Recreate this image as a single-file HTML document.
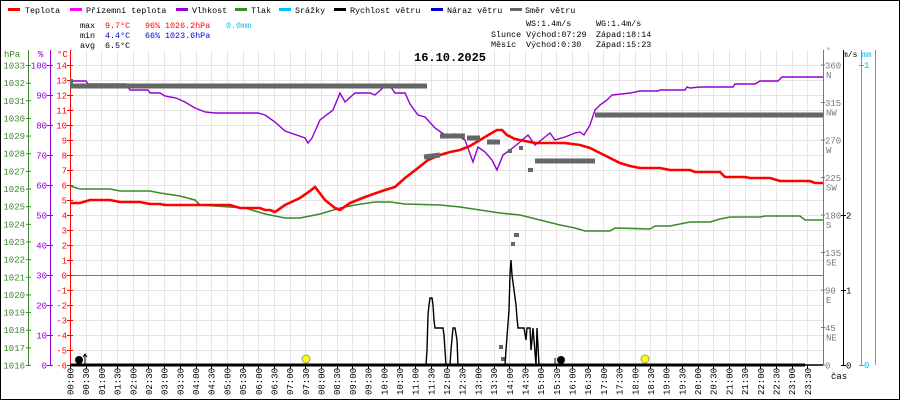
<!DOCTYPE html>
<html><head><meta charset="utf-8"><style>
body{margin:0;background:#fff;}
svg{display:block;font-family:"Liberation Mono","DejaVu Sans Mono",monospace;font-size:10px;}
</style></head><body>
<svg width="900" height="400" viewBox="0 0 900 400" xmlns="http://www.w3.org/2000/svg">
<rect x="0.5" y="0.5" width="899" height="399" fill="#fff" stroke="#000"/>
<!-- legend -->
<g font-size="8.4">
<rect x="8" y="8" width="12" height="3" fill="#f00"/><text x="25" y="13">Teplota</text>
<rect x="70" y="8" width="12" height="3" fill="#f0f"/><text x="86" y="13">Přízemní teplota</text>
<rect x="176" y="8" width="12" height="3" fill="#9400d3"/><text x="192" y="13">Vlhkost</text>
<rect x="235" y="8" width="12" height="3" fill="#3a8a2a"/><text x="251" y="13">Tlak</text>
<rect x="279" y="8" width="12" height="3" fill="#00bfff"/><text x="295" y="13">Srážky</text>
<rect x="334" y="8" width="12" height="3" fill="#000"/><text x="350" y="13">Rychlost větru</text>
<rect x="431" y="8" width="12" height="3" fill="#00c"/><text x="447" y="13">Náraz větru</text>
<rect x="510" y="8" width="12" height="3" fill="#666"/><text x="525" y="13">Směr větru</text>
</g>
<g font-size="8.4">
<text x="80" y="28">max</text><text x="105" y="28" fill="#f00">9.7°C</text><text x="145" y="28" fill="#f00">96%</text><text x="165" y="28" fill="#f00">1026.2hPa</text><text x="226" y="28" fill="#00bfff">0.0mm</text>
<text x="80" y="38">min</text><text x="105" y="38" fill="#00c">4.4°C</text><text x="145" y="38" fill="#00c">66%</text><text x="165" y="38" fill="#00c">1023.6hPa</text>
<text x="80" y="48">avg</text><text x="105" y="48">6.5°C</text>
<text x="526" y="26">WS:1.4m/s</text><text x="596" y="26">WG:1.4m/s</text>
<text x="491" y="37">Slunce Východ:07:29</text><text x="596" y="37">Západ:18:14</text>
<text x="491" y="47">Měsíc</text><text x="526" y="47">Východ:0:30</text><text x="596" y="47">Západ:15:23</text>
</g>
<!-- grid -->
<g stroke="#e8e4e4" stroke-width="1" id="grid"></g>
<rect x="412" y="51" width="76" height="13" fill="#fff"/>
<text x="414" y="61" font-size="12" font-weight="bold">16.10.2025</text>
<!-- axes -->
<line x1="28.5" y1="50" x2="28.5" y2="365" stroke="#3a8a2a"/>
<line x1="50.5" y1="50" x2="50.5" y2="365" stroke="#9400d3"/>
<line x1="70.5" y1="50" x2="70.5" y2="365" stroke="#f00"/>
<line x1="823.5" y1="50" x2="823.5" y2="365" stroke="#777"/>
<line x1="843.5" y1="50" x2="843.5" y2="365" stroke="#000"/>
<line x1="861.5" y1="50" x2="861.5" y2="365" stroke="#00bfff"/>
<line x1="875.5" y1="50" x2="875.5" y2="365" stroke="#e08020"/>
<line x1="70" y1="275.5" x2="823" y2="275.5" stroke="#777"/>
<g font-size="9"><text x="4" y="57" fill="#3a8a2a">hPa</text><text x="38" y="57" fill="#9400d3">%</text><text x="57" y="57" fill="#f00">°C</text></g>
<text x="826" y="53" fill="#777" font-size="8">°</text><text x="843" y="57" font-size="8">m/s</text><text x="862" y="57" fill="#00bfff" font-size="8">mm</text>
<g id="labels" font-size="9"></g>
<!-- series -->
<polyline fill="none" stroke="#3a8a2a" stroke-width="1.6" points="70,186 80,189 110,189 120,191 150,191 160,193 180,196 195,200 200,205 245,208 265,214 285,218 300,218 320,214 340,208 355,205 375,202 390,202 405,204 440,205 460,207 480,210 500,213 520,215 540,220 560,225 575,228 585,231 610,231 615,228 650,229 655,226 670,226 680,224 690,222 710,222 720,219 730,217 760,217 765,216 800,216 805,220 823,220"/>
<polyline fill="none" stroke="#9400d3" stroke-width="1.4" points="70,81 86,81 88,84 126,84 130,90 148,90 150,93 160,93 165,96 176,98 185,102 195,108 205,112 215,113 258,113 265,115 275,122 285,131 305,138 308,143 312,138 320,120 333,110 340,93 345,102 355,93 370,93 375,95 385,86 390,86 395,93 405,93 410,104 418,115 425,117 435,128 445,135 455,134 465,140 473,162 478,147 485,152 492,160 497,170 503,155 510,150 520,142 528,135 535,145 545,137 550,133 555,140 565,137 575,133 580,132 584,135 590,125 595,110 600,105 607,100 612,95 630,93 640,91 658,91 660,90 685,90 687,87 690,88 700,87 733,87 735,84 755,84 760,81 778,81 782,77 823,77"/>
<polyline fill="none" stroke="#f00" stroke-width="2.6" points="70,203 80,203 90,200 110,200 120,202 140,202 150,204 160,204 165,205 230,205 240,208 260,208 265,210 270,210 275,212 285,205 300,198 310,191 315,187 325,200 335,208 340,210 350,203 365,197 385,190 395,187 405,178 418,168 428,160 440,155 450,152 460,150 470,146 480,140 490,134 497,130 502,130 507,135 515,139 525,141 535,143 565,143 580,145 590,148 600,153 610,158 620,163 630,166 640,168 660,168 670,170 690,170 695,172 720,172 725,177 745,177 750,178 770,178 780,181 810,181 815,183 823,183"/>
<g stroke="#666" stroke-width="5">
<line x1="70" y1="86" x2="427" y2="86"/>
<line x1="424" y1="157" x2="440" y2="155"/>
<line x1="440" y1="136" x2="465" y2="136"/>
<line x1="467" y1="138" x2="480" y2="138"/>
<line x1="487" y1="142" x2="500" y2="142"/>
<line x1="535" y1="161" x2="595" y2="161"/>
<line x1="595" y1="115" x2="823" y2="115"/>
</g>
<g fill="#666"><rect x="508" y="149" width="4" height="4"/><rect x="519" y="146" width="4" height="4"/><rect x="528" y="168" width="5" height="4"/><rect x="514" y="233" width="5" height="4"/><rect x="511" y="242" width="4" height="4"/><rect x="499" y="345" width="4" height="4"/><rect x="501" y="357" width="4" height="4"/><rect x="70" y="79" width="3" height="5"/></g>
<polyline fill="none" stroke="#000" stroke-width="1.4" points="70,365 426,365 427,350 428,315 429,305 430,298 432,298 433,305 434,320 435,328 443,328 444,335 445,350 446,365 450,365 451,350 453,328 455,328 457,340 458,365 505,365 506,350 509,310 510,275 511,260 512,275 514,290 516,305 517,318 518,328 524,328 526,340 527,328 530,328 531,350 532,340 533,328 534,340 536,365 537,328 539,365 823,365"/>
<g stroke="#00bfff" stroke-width="2"><line x1="427" y1="365" x2="442" y2="365"/><line x1="451" y1="365" x2="458" y2="365"/><line x1="506" y1="365" x2="539" y2="365"/></g>
<line x1="70" y1="365" x2="805" y2="365" stroke="#000" stroke-width="3"/>
<circle cx="79" cy="360" r="4" fill="#000"/>
<line x1="85" y1="364" x2="85" y2="355" stroke="#000"/><path d="M83,357 L85,354 L87,357" fill="none" stroke="#000"/>
<circle cx="561" cy="360" r="4" fill="#000"/>
<line x1="555" y1="364" x2="555" y2="358" stroke="#000"/>
<circle cx="306" cy="359" r="4" fill="#ff0" stroke="#999"/>
<circle cx="645" cy="359" r="4" fill="#ff0" stroke="#999"/>
<text x="831" y="379" font-size="9">čas</text>
<script>
var ns="http://www.w3.org/2000/svg";
var g=document.getElementById('grid'),L=document.getElementById('labels');
function ln(p,a){var e=document.createElementNS(ns,'line');for(var k in a)e.setAttribute(k,a[k]);p.appendChild(e);return e;}
function tx(x,y,s,c,anc,p){var e=document.createElementNS(ns,'text');e.setAttribute('x',x);e.setAttribute('y',y);e.setAttribute('fill',c);if(anc)e.setAttribute('text-anchor',anc);e.textContent=s;(p||L).appendChild(e);return e;}
for(var i=0;i<=20;i++){var y=65+i*15+.5;ln(g,{x1:70,y1:y,x2:823,y2:y});}
for(var i=1;i<48;i++){var x=Math.round(70+i*753/48)+.5;ln(g,{x1:x,y1:50,x2:x,y2:365});}
for(var i=0;i<=20;i++){var y=65+i*15;tx(67,y+3.5,String(14-i),'#f00','end');ln(L,{x1:67,y1:y+.5,x2:73,y2:y+.5,stroke:'#f00'});}
for(var i=0;i<=17;i++){var y=65+i*300/17;tx(25,y+3.5,String(1033-i),'#3a8a2a','end');ln(L,{x1:26,y1:y+.5,x2:31,y2:y+.5,stroke:'#3a8a2a'});}
for(var i=0;i<=10;i++){var y=65+i*30;tx(47,y+3.5,String(100-i*10),'#9400d3','end');ln(L,{x1:47,y1:y+.5,x2:53,y2:y+.5,stroke:'#9400d3'});}
var dirs=['N','NW','W','SW','S','SE','E','NE',''];
for(var i=0;i<=8;i++){var y=65+i*37.5;tx(825,y+3.5,String(360-i*45),'#777');if(dirs[i])tx(826,y+13,dirs[i],'#777');ln(L,{x1:821,y1:y,x2:825,y2:y,stroke:'#777'});}
for(var i=0;i<=2;i++){var y=365-i*75;tx(846,y+3.5,String(i),'#000');ln(L,{x1:841,y1:y+.5,x2:846,y2:y+.5,stroke:'#000'});}
tx(864,68,'1','#00bfff');tx(864,368,'0','#00bfff');
ln(L,{x1:859,y1:65.5,x2:864,y2:65.5,stroke:'#00bfff'});ln(L,{x1:859,y1:365.5,x2:864,y2:365.5,stroke:'#00bfff'});
for(var i=0;i<48;i++){var x=70+i*753/48;var h=Math.floor(i/2),m=i%2?'30':'00';var s=(h<10?'0':'')+h+':'+m;
var t=tx(0,0,s,'#000',null);t.setAttribute('font-size','9');t.setAttribute('transform','translate('+(x+3.5)+',395) rotate(-90)');
ln(L,{x1:Math.round(x)+.5,y1:365,x2:Math.round(x)+.5,y2:369,stroke:'#000'});}
</script>
</svg>
</body></html>
